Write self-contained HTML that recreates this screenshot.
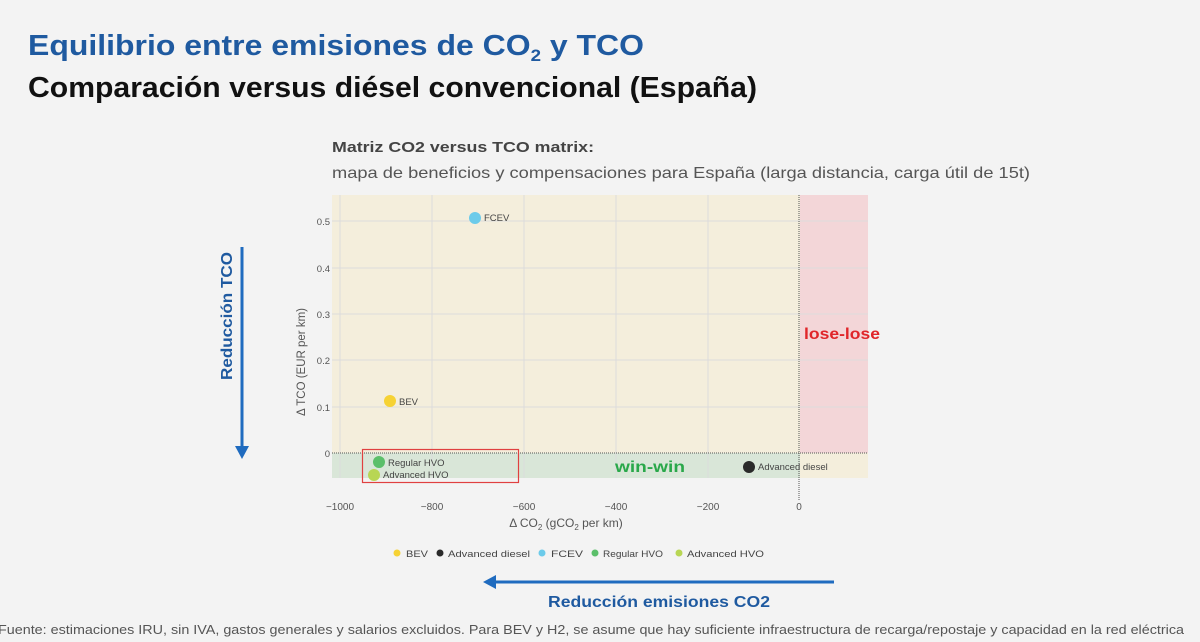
<!DOCTYPE html>
<html><head><meta charset="utf-8"><style>
body{margin:0;width:1200px;height:642px;background:#f3f3f3;overflow:hidden;position:relative;font-family:"Liberation Sans",sans-serif}
</style></head><body>
<svg width="1200" height="642" style="position:absolute;left:0;top:0" font-family="Liberation Sans, sans-serif">
<text x="28" y="55" font-size="29" fill="#1f5aa0" font-weight="bold" textLength="616" lengthAdjust="spacingAndGlyphs">Equilibrio entre emisiones de CO<tspan font-size="17" dy="6">2</tspan><tspan dy="-6"> y TCO</tspan></text>
<text x="28" y="97" font-size="29" fill="#111" font-weight="bold" textLength="729" lengthAdjust="spacingAndGlyphs">Comparación versus diésel convencional (España)</text>
<text x="332" y="152" font-size="15" fill="#444" font-weight="bold" textLength="262" lengthAdjust="spacingAndGlyphs">Matriz CO2 versus TCO matrix:</text>
<text x="332" y="178" font-size="16" fill="#555" textLength="698" lengthAdjust="spacingAndGlyphs">mapa de beneficios y compensaciones para España (larga distancia, carga útil de 15t)</text>
<rect x="332" y="195" width="536" height="283" fill="#f4eedc"/>
<rect x="800" y="195" width="68" height="258" fill="#f3d6d8"/>
<rect x="332" y="453" width="468" height="25" fill="#d9e6d8"/>
<g stroke="#dcdcdc" stroke-width="1">
<line x1="340" y1="195" x2="340" y2="478"/><line x1="432" y1="195" x2="432" y2="478"/><line x1="524" y1="195" x2="524" y2="478"/><line x1="616" y1="195" x2="616" y2="478"/><line x1="708" y1="195" x2="708" y2="478"/>
<line x1="332" y1="221" x2="868" y2="221"/><line x1="332" y1="268" x2="868" y2="268"/><line x1="332" y1="314" x2="868" y2="314"/><line x1="332" y1="360" x2="868" y2="360"/><line x1="332" y1="407" x2="868" y2="407"/>
</g>
<line x1="332" y1="453" x2="868" y2="453" stroke="#555" stroke-dasharray="1,1"/>
<line x1="799" y1="195" x2="799" y2="500" stroke="#555" stroke-dasharray="1,1"/>
<g font-size="9.5" fill="#555" text-anchor="end">
<text x="330" y="225">0.5</text><text x="330" y="272">0.4</text><text x="330" y="318">0.3</text><text x="330" y="364">0.2</text><text x="330" y="411">0.1</text><text x="330" y="457">0</text>
</g>
<g font-size="10" fill="#555" text-anchor="middle">
<text x="340" y="510">−1000</text><text x="432" y="510">−800</text><text x="524" y="510">−600</text><text x="616" y="510">−400</text><text x="708" y="510">−200</text><text x="799" y="510">0</text>
</g>
<text x="566" y="527" font-size="12" fill="#555" text-anchor="middle">Δ CO<tspan font-size="8" dy="3">2</tspan><tspan dy="-3"> (gCO</tspan><tspan font-size="8" dy="3">2</tspan><tspan dy="-3"> per km)</tspan></text>
<text transform="translate(305,362) rotate(-90)" font-size="11.5" fill="#555" text-anchor="middle">Δ TCO (EUR per km)</text>
<rect x="362.5" y="449.5" width="156" height="33" fill="none" stroke="#e04040" stroke-width="1.2"/>
<circle cx="475" cy="218" r="6" fill="#6ccbea"/><text x="484" y="221" font-size="9.5" fill="#444">FCEV</text>
<circle cx="390" cy="401" r="6" fill="#f6d234"/><text x="399" y="405" font-size="9.5" fill="#444">BEV</text>
<circle cx="379" cy="462" r="6" fill="#5bbf6a"/><text x="388" y="466" font-size="9.5" fill="#444">Regular HVO</text>
<circle cx="374" cy="475" r="6" fill="#b8d654"/><text x="383" y="478" font-size="9.5" fill="#444">Advanced HVO</text>
<circle cx="749" cy="467" r="6" fill="#2a2a2a"/><text x="758" y="470" font-size="9.5" fill="#444">Advanced diesel</text>
<text x="615" y="472" font-size="16" font-weight="bold" fill="#2aa84a" textLength="70" lengthAdjust="spacingAndGlyphs">win-win</text>
<text x="804" y="339" font-size="16" font-weight="bold" fill="#e0262a" textLength="76" lengthAdjust="spacingAndGlyphs">lose-lose</text>
<g font-size="9.5" fill="#444">
<circle cx="397" cy="553" r="3.5" fill="#f6d234"/><text x="406" y="557" textLength="22" lengthAdjust="spacingAndGlyphs">BEV</text>
<circle cx="440" cy="553" r="3.5" fill="#2a2a2a"/><text x="448" y="557" textLength="82" lengthAdjust="spacingAndGlyphs">Advanced diesel</text>
<circle cx="542" cy="553" r="3.5" fill="#6ccbea"/><text x="551" y="557" textLength="32" lengthAdjust="spacingAndGlyphs">FCEV</text>
<circle cx="595" cy="553" r="3.5" fill="#5bbf6a"/><text x="603" y="557" textLength="60" lengthAdjust="spacingAndGlyphs">Regular HVO</text>
<circle cx="679" cy="553" r="3.5" fill="#b8d654"/><text x="687" y="557" textLength="77" lengthAdjust="spacingAndGlyphs">Advanced HVO</text>
</g>
<line x1="242" y1="247" x2="242" y2="446" stroke="#1f6bbf" stroke-width="3"/>
<polygon points="235,446 249,446 242,459" fill="#1f6bbf"/>
<text transform="translate(232,316) rotate(-90)" font-size="15.5" fill="#1f5aa0" text-anchor="middle" font-weight="bold" textLength="128" lengthAdjust="spacingAndGlyphs">Reducción TCO</text>
<line x1="496" y1="582" x2="834" y2="582" stroke="#1f6bbf" stroke-width="3"/>
<polygon points="496,575 496,589 483,582" fill="#1f6bbf"/>
<text x="548" y="607" font-size="15.5" fill="#1f5aa0" font-weight="bold" textLength="222" lengthAdjust="spacingAndGlyphs">Reducción emisiones CO2</text>
<text x="-2" y="634" font-size="12.5" fill="#555" textLength="1186" lengthAdjust="spacingAndGlyphs">Fuente: estimaciones IRU, sin IVA, gastos generales y salarios excluidos. Para BEV y H2, se asume que hay suficiente infraestructura de recarga/repostaje y capacidad en la red eléctrica</text>
</svg>
</body></html>
